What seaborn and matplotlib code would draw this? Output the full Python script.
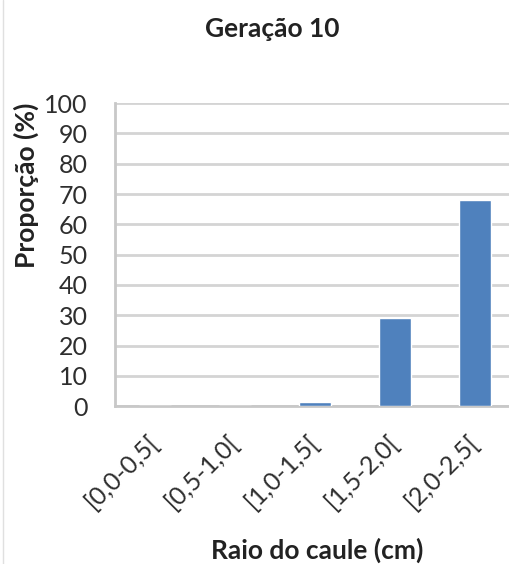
import matplotlib
matplotlib.use("Agg")
import matplotlib.pyplot as plt
import matplotlib.transforms as mtransforms
import seaborn as sns
import pandas as pd

# Distribution of stem radius classes in generation 10
categories = ["[0,0-0,5[", "[0,5-1,0[", "[1,0-1,5[", "[1,5-2,0[", "[2,0-2,5["]
proportions = [0, 0, 1.5, 29, 68]
y_ticks = [0, 10, 20, 30, 40, 50, 60, 70, 80, 90, 100]

df = pd.DataFrame({"classe": categories, "prop": proportions})

sns.set_theme(style="white")
plt.rcParams["font.family"] = ["Lato", "DejaVu Sans"]

fig = plt.figure(figsize=(5.09, 5.64), dpi=100)
ax = fig.add_axes([0.226, 0.280, 0.786, 0.537])

sns.barplot(data=df, x="classe", y="prop", color="#4F81BD", width=0.39,
            saturation=1, ax=ax, zorder=3)

ax.set_ylim(0, 100)
ax.set_xlim(-0.5, 4.5)
ax.set_yticks(y_ticks)
ax.set_yticklabels([str(t) for t in y_ticks], fontsize=18, color="#2e2e2e")
ax.yaxis.grid(True, color="#d4d4d4", linewidth=2, zorder=0)
ax.set_axisbelow(True)

ax.set_xticks([i - 0.5 for i in range(len(categories))], minor=True)
ax.set_xticks(range(len(categories)))
ax.set_xticklabels(categories, rotation=45, ha="right", va="center",
                   rotation_mode="anchor", fontsize=18, color="#2e2e2e")
shift = mtransforms.ScaledTranslation(3 / 100, 0, fig.dpi_scale_trans)
for lbl in ax.get_xticklabels():
    lbl.set_transform(lbl.get_transform() + shift)
ax.tick_params(axis="x", which="major", length=0, pad=23)
ax.tick_params(axis="x", which="minor", length=6.5, width=1.2, color="#c8c8c8")
ax.tick_params(axis="y", length=6.5, width=2, color="#d4d4d4", pad=13)

for side in ["top", "right"]:
    ax.spines[side].set_visible(False)
for side in ["left", "bottom"]:
    ax.spines[side].set_color("#c8c8c8")
    ax.spines[side].set_linewidth(2)

ax.set_xlabel("")
ax.set_ylabel("")

fig.text(0.535, 0.948, "Geração 10", ha="center", va="center",
         fontsize=19, fontweight="bold", color="#222222")
fig.text(0.052, 0.672, "Proporção (%)", ha="center", va="center", rotation=90,
         fontsize=19, fontweight="bold", color="#222222")
fig.text(0.623, 0.025, "Raio do caule (cm)", ha="center", va="center",
         fontsize=19, fontweight="bold", color="#222222")

# thin frame line at the left edge of the chart area
fig.add_artist(plt.Line2D([0.006, 0.006], [0.0, 1.0], color="#e0e0e0",
                          linewidth=1, transform=fig.transFigure))

fig.savefig("out.png", dpi=100)
